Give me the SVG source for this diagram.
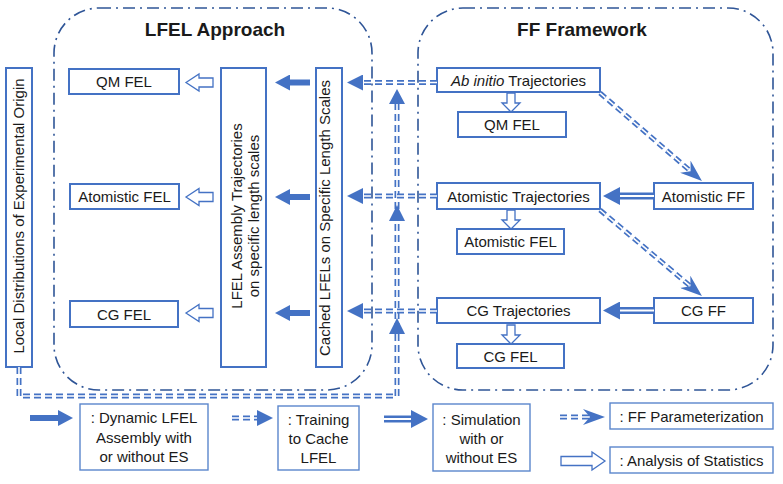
<svg xmlns="http://www.w3.org/2000/svg" width="783" height="484" viewBox="0 0 783 484">
<style>
.cont{fill:none;stroke:#2F5597;stroke-width:1.6;stroke-dasharray:12 5 2 5}
.box{fill:#fff;stroke:#4472C4;stroke-width:2}
.lbox{fill:#fff;stroke:#5B86CC;stroke-width:1.4}
text{font-family:"Liberation Sans",Arial,sans-serif;font-size:15px;fill:#1a1a1a}
.t{text-anchor:middle}
.title{font-size:19px;font-weight:bold;text-anchor:middle}
.hol{fill:#fff;stroke:#4472C4;stroke-width:1.3}
.solid{stroke:#4472C4;stroke-width:6;fill:none}
.dd{stroke:#4472C4;stroke-width:5;fill:none;stroke-dasharray:7 4}
.ddw{stroke:#fff;stroke-width:1.6;fill:none;stroke-dasharray:7 4}
.dl{stroke:#4472C4;stroke-width:7;fill:none}
.dlw{stroke:#fff;stroke-width:2;fill:none}
.head{fill:#4472C4}
</style>
<defs>
<marker id="mSolid" markerUnits="userSpaceOnUse" viewBox="0 0 15 16" markerWidth="15" markerHeight="16" refX="0" refY="8" orient="auto"><path d="M0,0 L15,8 L0,16 z" fill="#4472C4"/></marker>
<marker id="mTri" markerUnits="userSpaceOnUse" viewBox="0 0 16 16" markerWidth="16" markerHeight="16" refX="0" refY="8" orient="auto"><path d="M0,0 L16,8 L0,16 z" fill="#4472C4"/></marker>
<marker id="mDbl" markerUnits="userSpaceOnUse" viewBox="0 0 17 18" markerWidth="17" markerHeight="18" refX="0" refY="9" orient="auto"><path d="M0,0 L17,9 L0,18 z" fill="#4472C4"/></marker>
<marker id="mChev" markerUnits="userSpaceOnUse" viewBox="0 0 22 16" markerWidth="22" markerHeight="16" refX="7" refY="8" orient="auto"><path d="M0,0 L22,8 L0,16 L7,8 z" fill="#4472C4"/></marker>
<path id="hollowL" d="M0,0 L13,-8.5 L13,-4.5 L27,-4.5 L27,4.5 L13,4.5 L13,8.5 Z"/>
<path id="hollowD" d="M0,0 L-9,-9 L-4,-9 L-4,-19 L4,-19 L4,-9 L9,-9 Z"/>
</defs>
<rect width="783" height="484" fill="#fff"/>

<g id="lfel-approach">
<rect class="cont" x="54" y="8" width="318" height="382" rx="45"/>
<text class="title" x="215" y="36">LFEL Approach</text>
</g>
<g id="ff-framework">
<rect class="cont" x="418" y="8" width="355" height="382" rx="45"/>
<text class="title" x="582" y="36">FF Framework</text>
</g>

<g id="local-dist">
<rect class="box" x="6" y="68" width="26" height="299"/>
<text class="t" transform="translate(24,216) rotate(-90)">Local Distributions of Experimental Origin</text>
</g>
<g id="qm-fel-l"><rect class="box" x="69" y="69" width="110" height="25"/><text class="t" x="124" y="87">QM FEL</text></g>
<g id="atom-fel-l"><rect class="box" x="70" y="184" width="109" height="25"/><text class="t" x="124.5" y="202">Atomistic FEL</text></g>
<g id="cg-fel-l"><rect class="box" x="70" y="301" width="108" height="26"/><text class="t" x="124" y="319.5">CG FEL</text></g>
<g id="lfel-assembly">
<rect class="box" x="221" y="68" width="45" height="299"/>
<text class="t" transform="translate(242,216) rotate(-90)">LFEL Assembly Trajectories</text>
<text class="t" transform="translate(259,216) rotate(-90)">on specific length scales</text>
</g>
<g id="cached">
<rect class="box" x="316" y="68" width="26" height="299"/>
<text class="t" transform="translate(330,218) rotate(-90)">Cached LFELs on Specific Length Scales</text>
</g>

<g id="abinitio"><rect class="box" x="437" y="68" width="163" height="24"/><text class="t" x="518.5" y="85.5"><tspan font-style="italic">Ab initio</tspan> Trajectories</text></g>
<g id="qm-fel-r"><rect class="box" x="458" y="112" width="108" height="25"/><text class="t" x="512" y="130">QM FEL</text></g>
<g id="atom-traj"><rect class="box" x="437" y="183" width="163" height="26"/><text class="t" x="518.5" y="201.5">Atomistic Trajectories</text></g>
<g id="atom-fel-r"><rect class="box" x="457" y="229" width="107" height="25"/><text class="t" x="510.5" y="247">Atomistic FEL</text></g>
<g id="atom-ff"><rect class="box" x="654" y="183" width="99" height="26"/><text class="t" x="703.5" y="201.5">Atomistic FF</text></g>
<g id="cg-traj"><rect class="box" x="437" y="298" width="163" height="25"/><text class="t" x="518.5" y="316">CG Trajectories</text></g>
<g id="cg-fel-r"><rect class="box" x="457" y="344" width="107" height="24"/><text class="t" x="510.5" y="361.5">CG FEL</text></g>
<g id="cg-ff"><rect class="box" x="654" y="298" width="99" height="25"/><text class="t" x="703.5" y="316">CG FF</text></g>

<g id="connectors">
<!-- analysis (hollow) -->
<use href="#hollowL" class="hol" transform="translate(186,82.5)"/>
<use href="#hollowL" class="hol" transform="translate(186,197)"/>
<use href="#hollowL" class="hol" transform="translate(186,313)"/>
<use href="#hollowD" class="hol" transform="translate(511,112)"/>
<use href="#hollowD" class="hol" transform="translate(511,229)"/>
<use href="#hollowD" class="hol" transform="translate(511,344)"/>
<!-- dynamic assembly (solid) -->
<path class="solid" d="M310,82.5 H290" marker-end="url(#mSolid)"/>
<path class="solid" d="M310,197 H290" marker-end="url(#mSolid)"/>
<path class="solid" d="M310,313 H290" marker-end="url(#mSolid)"/>
<!-- simulation (double line) -->
<path class="dl" d="M654,196 H620" marker-end="url(#mDbl)"/>
<path class="dlw" d="M654,196 H620"/>
<path class="dl" d="M654,310.5 H620" marker-end="url(#mDbl)"/>
<path class="dlw" d="M654,310.5 H620"/>
<!-- FF parameterization (double dashed, chevron) -->
<path class="dd" d="M600,93 L690.6,171.2" marker-end="url(#mChev)"/>
<path class="ddw" d="M600,93 L690.6,171.2"/>
<path class="dd" d="M600,210 L690.5,286.3" marker-end="url(#mChev)"/>
<path class="ddw" d="M600,210 L690.5,286.3"/>
<!-- training (double dashed, triangle) -->
<path class="dd" d="M19,367 V396 H397 V104"/>
<path class="ddw" d="M19,367 V396 H397 V104"/>
<path class="dd" d="M437,82.5 H363" marker-end="url(#mTri)"/>
<path class="ddw" d="M437,82.5 H363"/>
<path class="dd" d="M437,196 H363" marker-end="url(#mTri)"/>
<path class="ddw" d="M437,196 H363"/>
<path class="dd" d="M437,311 H363" marker-end="url(#mTri)"/>
<path class="ddw" d="M437,311 H363"/>
<polygon class="head" points="389,104 397,89 405,104"/>
<polygon class="head" points="389,221 397,205 405,221"/>
<polygon class="head" points="389,334 397,318 405,334"/>
</g>

<g id="legend">
<path class="solid" d="M30,418 H58" marker-end="url(#mSolid)"/>
<path class="dd" d="M232,418 H257" marker-end="url(#mTri)"/>
<path class="ddw" d="M232,418 H257"/>
<path class="dl" d="M384,419 H411" marker-end="url(#mDbl)"/>
<path class="dlw" d="M384,419 H411"/>
<path class="dd" d="M560,417 H590" marker-end="url(#mChev)"/>
<path class="ddw" d="M560,417 H590"/>
<path class="hol" d="M605,461 L592,452 L592,456.5 L561,456.5 L561,465.5 L592,465.5 L592,470 Z"/>
</g>
<g id="legend-dynamic"><rect class="lbox" x="80" y="404" width="128" height="66"/>
<text class="t" x="144" y="423">: Dynamic LFEL</text><text class="t" x="144" y="442.5">Assembly with</text><text class="t" x="144" y="462">or without ES</text></g>
<g id="legend-training"><rect class="lbox" x="278" y="406" width="81" height="64"/>
<text class="t" x="318.5" y="425">: Training</text><text class="t" x="318.5" y="444">to Cache</text><text class="t" x="318.5" y="463">LFEL</text></g>
<g id="legend-simulation"><rect class="lbox" x="433" y="404" width="97" height="67"/>
<text class="t" x="481.5" y="425">: Simulation</text><text class="t" x="481.5" y="444">with or</text><text class="t" x="481.5" y="463">without ES</text></g>
<g id="legend-ffparam"><rect class="lbox" x="610" y="403" width="163" height="26"/>
<text class="t" x="691.5" y="421.5">: FF Parameterization</text></g>
<g id="legend-analysis"><rect class="lbox" x="610" y="447" width="163" height="26"/>
<text class="t" x="691.5" y="465.5">: Analysis of Statistics</text></g>
</svg>
